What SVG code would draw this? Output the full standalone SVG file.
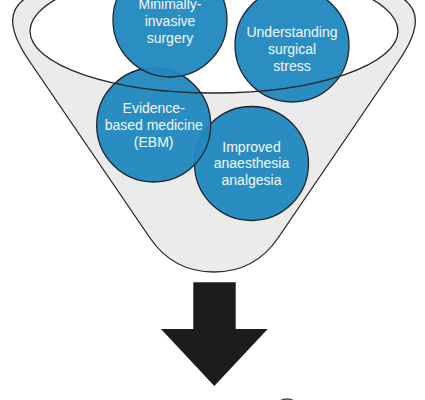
<svg xmlns="http://www.w3.org/2000/svg" width="425" height="400" viewBox="0 0 425 400">
<style>
.bub{fill:#1f88bf;fill-opacity:0.95;stroke:#1b2630;stroke-width:1.3}
.lbl{font-family:"Liberation Sans",Arial,sans-serif;font-size:14px;fill:#f4f8fb;text-anchor:middle}
.line{fill:none;stroke:#262626;stroke-width:1.3}
</style>
<rect width="425" height="400" fill="#ffffff"/>
<g id="funnel">
<path d="M 26,-2 C 4,12 12,36 30,62 L 150,238 C 165,260 185,272 214,272 C 243,272 263,260 278,238 L 398,62 C 416,36 424,12 402,-2 Z" fill="#ebebeb" stroke="#262626" stroke-width="1.3"/>
<ellipse cx="214" cy="31" rx="184" ry="62" fill="#ffffff"/>
</g>
<g id="n4">
<circle class="bub" cx="251.5" cy="163.5" r="57"/>
<text class="lbl"><tspan x="251.5" y="151.5">Improved</tspan><tspan x="251.5" y="168">anaesthesia</tspan><tspan x="251.5" y="184.5">analgesia</tspan></text>
</g>
<g id="n2">
<circle class="bub" cx="292" cy="45" r="57"/>
<text class="lbl"><tspan x="292" y="37">Understanding</tspan><tspan x="292" y="54">surgical</tspan><tspan x="292" y="71">stress</tspan></text>
</g>
<g id="n3">
<circle class="bub" cx="153.7" cy="125" r="57"/>
<text class="lbl"><tspan x="153.7" y="113.3">Evidence-</tspan><tspan x="153.7" y="130">based medicine</tspan><tspan x="153.7" y="146.7">(EBM)</tspan></text>
</g>
<g id="n1">
<circle class="bub" cx="170" cy="20" r="57"/>
<text class="lbl"><tspan x="170" y="8.5">Minimally-</tspan><tspan x="170" y="26">invasive</tspan><tspan x="170" y="43">surgery</tspan></text>
</g>
<g id="rim">
<ellipse class="line" cx="214" cy="31" rx="184" ry="62"/>
</g>
<g id="connectors">
<path d="M 193.3,282.3 L 235.7,282.3 L 235.7,329 L 267.7,329 L 214.3,386 L 161,329 L 193.3,329 Z" fill="#1c1c1e"/>
</g>
<g id="next">
<circle cx="287" cy="413" r="14" fill="none" stroke="#444444" stroke-width="1.3"/>
</g>
</svg>
